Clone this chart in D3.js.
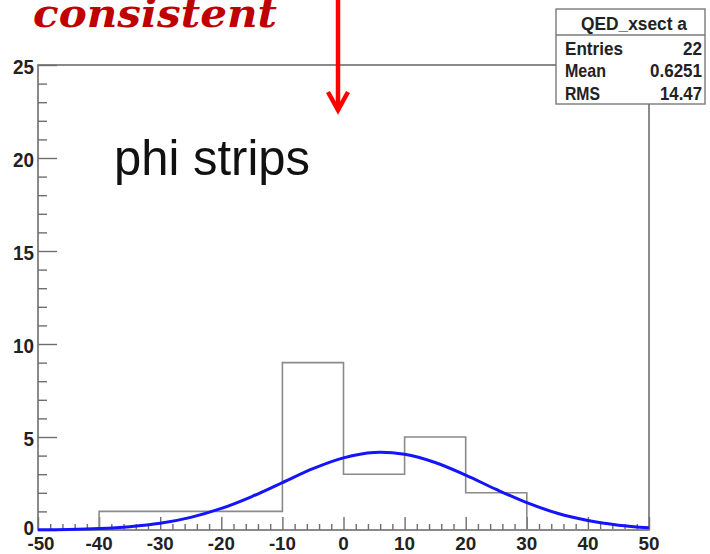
<!DOCTYPE html>
<html>
<head>
<meta charset="utf-8">
<script src="https://cdn.jsdelivr.net/npm/d3@7"></script>
<style>
  html, body { margin: 0; padding: 0; background: #fff; }
  svg { display: block; }
</style>
</head>
<body>
<svg id="chart" width="710" height="554"></svg>
<script>
// Histogram: lower bin edges (width 10) and entries per bin
const binLow = [-50, -40, -30, -20, -10, 0, 10, 20, 30, 40];
const binCounts = [0, 1, 1, 1, 9, 3, 5, 2, 0, 0];
const binWidth = 10;

// Gaussian fit curve, sampled every 5 units
const fitX = [-50, -45, -40, -35, -30, -25, -20, -15, -10, -5, 0, 5, 10, 15, 20, 25, 30, 35, 40, 45, 50];
const fitY = [0.01, 0.03, 0.08, 0.18, 0.36, 0.68, 1.16, 1.80, 2.55, 3.30, 3.88, 4.17, 4.07, 3.63, 2.95, 2.18, 1.47, 0.90, 0.51, 0.26, 0.12];

// Axis ranges and tick labels
const xDomain = [-50, 50];
const yDomain = [0, 25];
const xTickLabels = [-50, -40, -30, -20, -10, 0, 10, 20, 30, 40, 50];
const yTickLabels = [0, 5, 10, 15, 20, 25];

// Statistics box
const statsTitle = "QED_xsect a";
const statsNames = ["Entries", "Mean", "RMS"];
const statsValues = ["22", "0.6251", "14.47"];

const svg = d3.select("#chart");
const frame = { left: 38, right: 649, top: 65, bottom: 530 };

const x = d3.scaleLinear().domain(xDomain).range([frame.left, frame.right]);
const y = d3.scaleLinear().domain(yDomain).range([frame.bottom, frame.top]);

const axisColor = "#6e6e6e";
const labelFont = "'Liberation Sans', Arial, sans-serif";

// Frame
svg.append("rect")
  .attr("x", frame.left).attr("y", frame.top)
  .attr("width", frame.right - frame.left).attr("height", frame.bottom - frame.top)
  .attr("fill", "none").attr("stroke", axisColor).attr("stroke-width", 1.6);

// Y axis: major ticks every 5, minor every 1, drawn inward
const yAxis = d3.axisRight(y)
  .tickValues(d3.range(0, 25.001, 1))
  .tickSize(9)
  .tickFormat("");
const gy = svg.append("g").attr("transform", `translate(${frame.left},0)`).call(yAxis);
gy.select(".domain").remove();
gy.selectAll(".tick line")
  .attr("stroke", axisColor).attr("stroke-width", 1.4)
  .attr("x2", d => d % 5 === 0 ? 19 : 9);

svg.append("g").selectAll("text").data(yTickLabels).join("text")
  .attr("x", frame.left - 4)
  .attr("y", d => d === 0 ? y(d) + 5 : y(d) + 9)
  .attr("text-anchor", "end")
  .attr("font-family", labelFont).attr("font-weight", "bold").attr("font-size", 20)
  .attr("fill", "#222")
  .attr("textLength", d => String(d).length * 10.5).attr("lengthAdjust", "spacingAndGlyphs")
  .text(d => d);

// X axis: major ticks every 10, minor every 2, drawn upward
const xAxis = d3.axisTop(x)
  .tickValues(d3.range(-50, 50.001, 2))
  .tickSize(6)
  .tickFormat("");
const gx = svg.append("g").attr("transform", `translate(0,${frame.bottom})`).call(xAxis);
gx.select(".domain").remove();
gx.selectAll(".tick line")
  .attr("stroke", axisColor).attr("stroke-width", 1.4)
  .attr("y2", d => Math.round(d) % 10 === 0 ? -13 : -6);

svg.append("g").selectAll("text").data(xTickLabels).join("text")
  .attr("x", d => x(d) + (d === -50 ? 3 : 0))
  .attr("y", 550)
  .attr("text-anchor", "middle")
  .attr("font-family", labelFont).attr("font-weight", "bold").attr("font-size", 18)
  .attr("fill", "#222")
  .attr("textLength", d => d < 0 ? 27 : String(d).length * 10.5).attr("lengthAdjust", "spacingAndGlyphs")
  .text(d => d < 0 ? "-" + Math.abs(d) : d);

// Histogram outline (step line over bin edges)
const histPts = binLow.map((lo, i) => [lo, binCounts[i]]);
histPts.push([binLow[binLow.length - 1] + binWidth, 0]);
svg.append("path")
  .datum(histPts)
  .attr("fill", "none")
  .attr("stroke", "#8a8a8a").attr("stroke-width", 1.6)
  .attr("d", d3.line().x(d => x(d[0])).y(d => y(d[1])).curve(d3.curveStepAfter));

// Fit curve
svg.append("path")
  .datum(fitX.map((v, i) => [v, fitY[i]]))
  .attr("fill", "none")
  .attr("stroke", "#1414ff").attr("stroke-width", 3)
  .attr("d", d3.line().x(d => x(d[0])).y(d => y(d[1])).curve(d3.curveCatmullRom));

// Pad label
svg.append("text")
  .attr("x", 114).attr("y", 175)
  .attr("font-family", labelFont).attr("font-size", 50)
  .attr("fill", "#111")
  .attr("textLength", 196).attr("lengthAdjust", "spacingAndGlyphs")
  .text("phi strips");

// Statistics box
const box = { x: 556, y: 9, w: 149, h: 95, titleH: 26 };
const gs = svg.append("g");
gs.append("rect")
  .attr("x", box.x).attr("y", box.y).attr("width", box.w).attr("height", box.h)
  .attr("fill", "#fff").attr("stroke", "#7a7a7a").attr("stroke-width", 1.4);
gs.append("line")
  .attr("x1", box.x).attr("x2", box.x + box.w)
  .attr("y1", box.y + box.titleH).attr("y2", box.y + box.titleH)
  .attr("stroke", "#7a7a7a").attr("stroke-width", 1.4);
gs.append("text")
  .attr("x", 634).attr("y", 30)
  .attr("text-anchor", "middle")
  .attr("font-family", labelFont).attr("font-weight", "bold").attr("font-size", 18)
  .attr("fill", "#222")
  .attr("textLength", 106).attr("lengthAdjust", "spacingAndGlyphs")
  .text(statsTitle);

const nameWidths = [58, 41, 35];
const valueWidths = [19, 52, 42];
const rowBaselines = [55, 77, 100];
statsNames.forEach((name, i) => {
  gs.append("text")
    .attr("x", 565).attr("y", rowBaselines[i])
    .attr("font-family", labelFont).attr("font-weight", "bold").attr("font-size", 19)
    .attr("fill", "#222")
    .attr("textLength", nameWidths[i]).attr("lengthAdjust", "spacingAndGlyphs")
    .text(name);
  gs.append("text")
    .attr("x", 702).attr("y", rowBaselines[i])
    .attr("text-anchor", "end")
    .attr("font-family", labelFont).attr("font-weight", "bold").attr("font-size", 19)
    .attr("fill", "#222")
    .attr("textLength", valueWidths[i]).attr("lengthAdjust", "spacingAndGlyphs")
    .text(statsValues[i]);
});

// Annotation word and arrow
svg.append("text")
  .attr("x", 33).attr("y", 27)
  .attr("font-family", "'DejaVu Serif', serif")
  .attr("font-weight", "bold").attr("font-style", "italic").attr("font-size", 39)
  .attr("fill", "#bf0000")
  .attr("textLength", 244).attr("lengthAdjust", "spacingAndGlyphs")
  .text("consistent");

const arrow = svg.append("g").attr("stroke", "#ff0000").attr("stroke-width", 4.5)
  .attr("fill", "none").attr("stroke-linecap", "butt").attr("stroke-linejoin", "miter");
arrow.append("line").attr("x1", 338).attr("y1", 0).attr("x2", 338).attr("y2", 110);
arrow.append("polyline").attr("points", "328,92 338,110 348,92");
</script>
</body>
</html>
